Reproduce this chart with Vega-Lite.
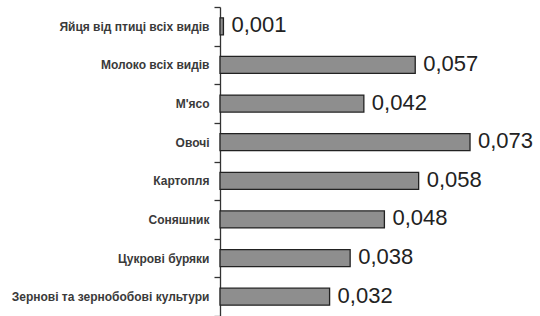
{
  "$schema": "https://vega.github.io/schema/vega-lite/v6.json",
  "autosize": "none",
  "width": 274,
  "height": 309,
  "padding": {"left": 220, "top": 7, "right": 46, "bottom": 0},
  "background": "white",
  "config": {
    "view": {"stroke": null},
    "locale": {"number": {"decimal": ",", "thousands": " ", "grouping": [3], "currency": ["", ""]}}
  },
  "data": {
    "values": [
      {"category": "Яйця від птиці всіх видів", "value": 0.001},
      {"category": "Молоко всіх видів", "value": 0.057},
      {"category": "М'ясо", "value": 0.042},
      {"category": "Овочі", "value": 0.073},
      {"category": "Картопля", "value": 0.058},
      {"category": "Соняшник", "value": 0.048},
      {"category": "Цукрові буряки", "value": 0.038},
      {"category": "Зернові та зернобобові культури", "value": 0.032}
    ]
  },
  "encoding": {
    "y": {
      "field": "category",
      "type": "nominal",
      "sort": null,
      "scale": {"paddingInner": 0, "paddingOuter": 0},
      "axis": {
        "title": null,
        "tickBand": "extent",
        "domainColor": "#333333",
        "domainWidth": 1.3,
        "tickColor": "#333333",
        "tickWidth": 1.3,
        "tickSize": 6,
        "labelPadding": 5,
        "labelFont": "Liberation Sans",
        "labelFontSize": 12,
        "labelFontWeight": "bold",
        "labelColor": "#3a3a3a",
        "labelLimit": 220
      }
    },
    "x": {
      "field": "value",
      "type": "quantitative",
      "scale": {"domain": [0, 0.08], "nice": false},
      "axis": null
    }
  },
  "layer": [
    {
      "mark": {"type": "bar", "height": {"band": 0.44}, "fill": "#8e8e8e", "stroke": "#222222", "strokeWidth": 1.3}
    },
    {
      "mark": {"type": "text", "align": "left", "baseline": "middle", "dx": 8, "dy": -1, "font": "Liberation Sans", "fontSize": 22, "color": "#222222"},
      "encoding": {"text": {"field": "value", "type": "quantitative", "format": ".3f"}}
    }
  ]
}
